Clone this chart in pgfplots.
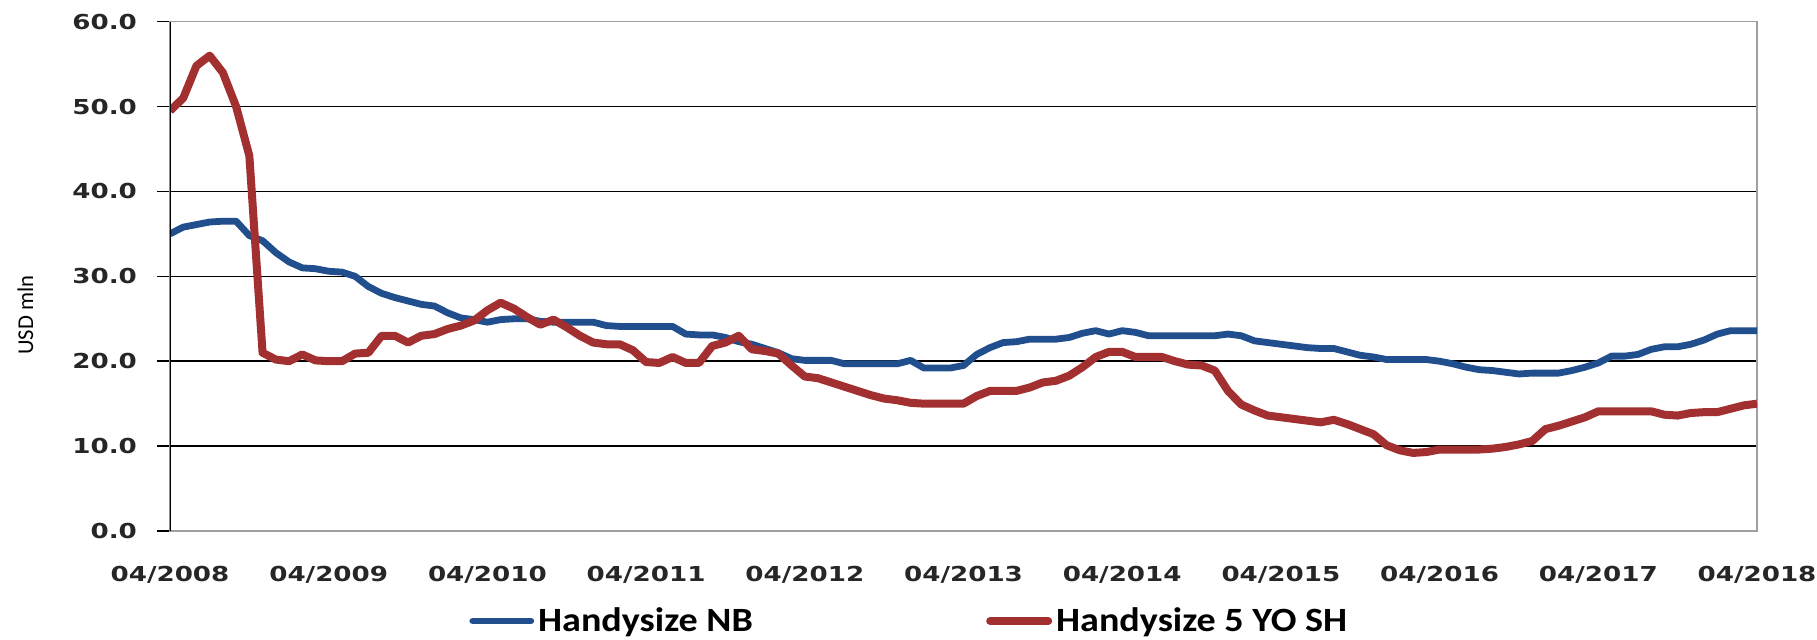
\documentclass[border=0pt]{standalone}
\usepackage{fontspec}
\usepackage{pgfplots}
\usepackage{pgfplotstable}
\pgfplotsset{compat=1.18}
\setmainfont{Carlito}
\newfontfamily\tickfont[FakeStretch=1.27]{DejaVu Sans}
\newfontfamily\legfont[FakeStretch=1.12]{Carlito}
\definecolor{nbblue}{RGB}{33,78,140}
\definecolor{shred}{RGB}{163,48,48}

\pgfplotstableread{
m nb sh
0 35.0 49.5
1 35.8 51.0
2 36.1 54.8
3 36.4 56.0
4 36.5 54.0
5 36.5 50.0
6 34.8 44.2
7 34.2 21.0
8 32.8 20.2
9 31.7 20.0
10 31.0 20.8
11 30.9 20.1
12 30.6 20.0
13 30.5 20.0
14 30.0 20.9
15 28.8 21.0
16 28.0 23.0
17 27.5 23.0
18 27.1 22.2
19 26.7 23.0
20 26.5 23.2
21 25.7 23.8
22 25.1 24.2
23 24.9 24.8
24 24.6 26.0
25 24.9 26.9
26 25.0 26.2
27 25.0 25.2
28 24.7 24.3
29 24.6 24.9
30 24.6 24.0
31 24.6 23.0
32 24.6 22.2
33 24.2 22.0
34 24.1 22.0
35 24.1 21.3
36 24.1 19.9
37 24.1 19.8
38 24.1 20.5
39 23.2 19.8
40 23.1 19.8
41 23.1 21.8
42 22.8 22.2
43 22.3 23.0
44 22.0 21.4
45 21.5 21.2
46 21.0 20.9
47 20.3 19.5
48 20.1 18.2
49 20.1 18.0
50 20.1 17.5
51 19.7 17.0
52 19.7 16.5
53 19.7 16.0
54 19.7 15.6
55 19.7 15.4
56 20.1 15.1
57 19.2 15.0
58 19.2 15.0
59 19.2 15.0
60 19.5 15.0
61 20.8 15.9
62 21.6 16.5
63 22.2 16.5
64 22.3 16.5
65 22.6 16.9
66 22.6 17.5
67 22.6 17.7
68 22.8 18.3
69 23.3 19.3
70 23.6 20.5
71 23.2 21.1
72 23.6 21.1
73 23.4 20.5
74 23.0 20.5
75 23.0 20.5
76 23.0 20.0
77 23.0 19.6
78 23.0 19.5
79 23.0 18.9
80 23.2 16.5
81 23.0 14.9
82 22.4 14.2
83 22.2 13.6
84 22.0 13.4
85 21.8 13.2
86 21.6 13.0
87 21.5 12.8
88 21.5 13.1
89 21.1 12.6
90 20.7 12.0
91 20.5 11.4
92 20.2 10.1
93 20.2 9.5
94 20.2 9.2
95 20.2 9.3
96 20.0 9.6
97 19.7 9.6
98 19.3 9.6
99 19.0 9.6
100 18.9 9.7
101 18.7 9.9
102 18.5 10.2
103 18.6 10.6
104 18.6 12.0
105 18.6 12.4
106 18.9 12.9
107 19.3 13.4
108 19.8 14.1
109 20.6 14.1
110 20.6 14.1
111 20.8 14.1
112 21.4 14.1
113 21.7 13.7
114 21.7 13.6
115 22.0 13.9
116 22.5 14.0
117 23.2 14.0
118 23.6 14.4
119 23.6 14.8
120 23.6 15.0
}\datatable

\begin{document}
\begin{tikzpicture}
\begin{axis}[
  scale only axis,
  width=793.5pt, height=254.65pt,
  xmin=0, xmax=120, ymin=0, ymax=60,
  xtick={0,12,...,120},
  xticklabels={04/2008,04/2009,04/2010,04/2011,04/2012,04/2013,04/2014,04/2015,04/2016,04/2017,04/2018},
  ytick={0,10,...,60},
  yticklabels={0.0,10.0,20.0,30.0,40.0,50.0,60.0},
  ymajorgrids,
  major grid style={black, line width=0.8pt},
  axis line style={gray!75, line width=0.8pt},
  tick align=outside,
  ytick pos=left,
  xtick pos=bottom,
  major tick length=6.5pt,
  ytick style={black, line width=0.8pt},
  xtick style={draw=none},
  tick label style={font=\tickfont\bfseries\fontsize{10.3}{12}\selectfont, color=black!85},
  yticklabel style={xshift=-6.5pt},
  xticklabel style={yshift=-7.6pt},
  ylabel={USD mln},
  ylabel style={font=\fontsize{11.3}{12}\selectfont, at={(rel axis cs:-0.0911,0.424)}, anchor=center, rotate=0},
  legend columns=2,
  legend style={draw=none, fill=none, at={(rel axis cs:0.1884,-0.1767)}, anchor=west,
    font=\legfont\bfseries\fontsize{17}{19}\selectfont, inner sep=0pt,
    /tikz/every odd column/.append style={column sep=0pt}},
  legend image code/.code={\draw[#1, line cap=round] (0pt,0pt) -- (29pt,0pt);},
]
\addplot[color=nbblue, line width=3.4pt, line join=round] table[x=m, y=nb] {\datatable};
\addlegendentry{\makebox[222pt][l]{Handysize NB}}
\addplot[color=shred, line width=4pt, line join=round] table[x=m, y=sh] {\datatable};
\addlegendentry{Handysize 5 YO SH}
\draw[black, line width=1pt] (rel axis cs:0,0) -- (rel axis cs:0,1);
\coordinate (pbl) at (rel axis cs:-0.10712,-0.21402);
\coordinate (ptr) at (rel axis cs:1.03781,1.04261);
\end{axis}
\pgfresetboundingbox
\useasboundingbox (pbl) rectangle (ptr);
\end{tikzpicture}
\end{document}
